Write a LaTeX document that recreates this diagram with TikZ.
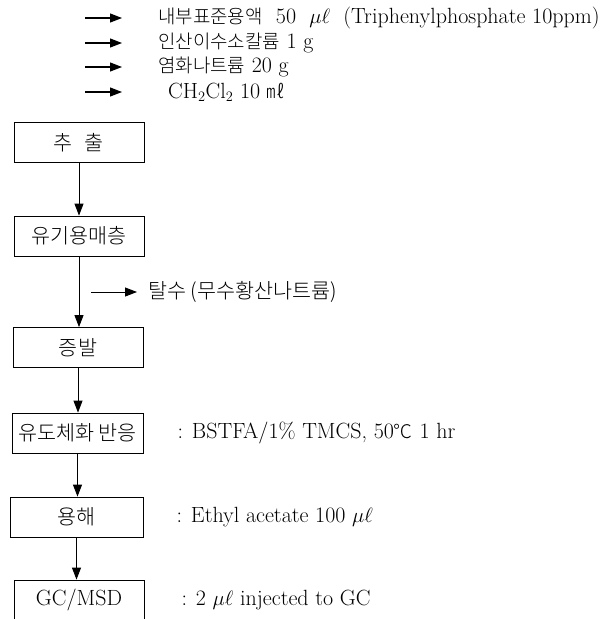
\documentclass[tikz,border=0pt]{standalone}
\usepackage{fontspec}
\newfontfamily\kr{Noto Sans CJK KR Light}[Scale=0.94]
\newfontfamily\krtop{Noto Sans CJK KR Light}[Scale=0.86]
\usetikzlibrary{positioning,arrows.meta}

\begin{document}
\begin{tikzpicture}[
    x=1pt, y=-1pt,
    font=\fontsize{22}{26}\selectfont,
    stepbox/.style={draw, line width=0.8pt, minimum width=130pt,
                    minimum height=40pt, inner sep=0pt,
                    font=\fontsize{22}{26}\selectfont\kr},
    note/.style={anchor=west, inner sep=0pt},
    flow/.style={-{Triangle[length=12pt,width=9pt]}, line width=0.9pt}
  ]
  \useasboundingbox (0,0) rectangle (608,619);

  % reagents added before extraction
  \foreach \n/\y/\x/\txt in {
      istd/18/158/{{\krtop 내부표준용액}\ \ 50\ \ $\mu\ell$\ \ (Triphenylphosphate\ 10ppm)},
      kp/43/158/{{\krtop 인산이수소칼륨} 1 g},
      nacl/67/158/{{\krtop 염화나트륨} 20 g},
      dcm/92/168/{CH$_2$Cl$_2$ 10 {\krtop ㎖}}} {
    \node[note] (\n) at (\x,\y) {\txt};
    \coordinate (\n-from) at (85,\y);
    \coordinate (\n-to) at (122,\y);
    \draw[flow, line width=1.2pt] (\n-from) -- (\n-to);
  }

  % process steps
  \node[stepbox] (ext)  at (79,142.5) {추\hspace{12pt}출};
  \node[stepbox] (org)  at (79,236)   {유기용매층};
  \node[stepbox] (evap) at (78,347.5) {증발};
  \node[stepbox, minimum width=131pt] (deriv) at (77.5,433) {유도체화 반응};
  \node[stepbox, minimum width=133pt] (diss)  at (76.5,517) {용해};
  \node[stepbox, font=\fontsize{22}{26}\selectfont] (gc) at (79,600) {GC/MSD};

  \foreach \a/\b in {ext/org, org/evap, evap/deriv, deriv/diss, diss/gc} {
    \draw[flow] (\a.south) -- (\a.south |- \b.north);
  }

  % drying
  \node[note, font=\fontsize{22}{26}\selectfont\kr] (dry) at (148,292)
    {탈수 (무수황산나트륨)};
  \coordinate (dry-from) at (91,292);
  \coordinate (dry-to) at (137,292);
  \draw[flow] (dry-from) -- (dry-to);

  % conditions
  \node[note, right=34pt of deriv] (cond) {: BSTFA/1\% TMCS, 50{\krtop ℃} 1 hr};
  \node[note, right=33pt of diss]  (solv) {: Ethyl acetate 100 $\mu\ell$};
  \node[note, right=37pt of gc]    (inj)  {: 2 $\mu\ell$ injected to GC};
\end{tikzpicture}
\end{document}
